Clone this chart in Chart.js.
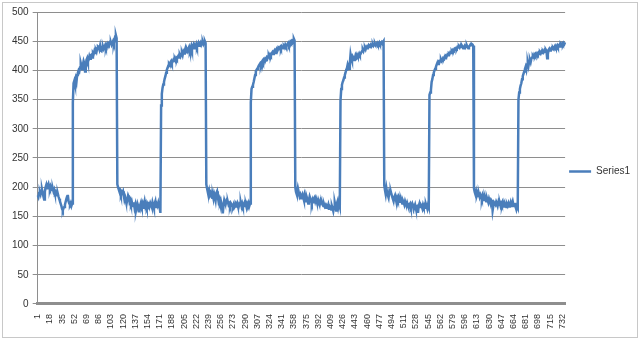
<!DOCTYPE html>
<html>
<head>
<meta charset="utf-8">
<script src="https://cdn.jsdelivr.net/npm/chart.js@4/dist/chart.umd.min.js"></script>
<style>
    html, body { margin: 0; padding: 0; background: #fff; }
    #wrap { width: 640px; height: 340px; position: relative; }
</style>
</head>
<body>
<div id="wrap"><canvas id="grafico"></canvas></div>
<script>
// values, one array per low/high phase
const low1 = [186, 183, 190, 192, 188, 194, 196, 190, 184, 179, 192, 200, 204, 198, 203, 206, 200, 197, 202, 199,
    195, 198, 193, 196, 190, 192, 188, 186, 189, 184, 180, 176, 172, 168, 163, 160, 164, 166, 170, 175,
    180, 184, 187, 176, 172, 170, 173, 168, 172];
const high1 = [345, 378, 382, 376, 385, 380, 392, 396, 400, 398, 405, 413, 408, 402, 410, 416, 412, 398, 405, 418,
    421, 415, 418, 424, 420, 426, 427, 422, 430, 428, 433, 430, 435, 432, 438, 441, 440, 436, 442, 434,
    433, 438, 441, 437, 440, 443, 439, 444, 442, 446, 444, 447, 445, 448, 444, 447, 450, 446, 452, 458,
    460, 455];
const low2 = [205, 200, 196, 192, 194, 188, 192, 190, 193, 186, 178, 182, 176, 173, 180, 186, 183, 175, 178, 172,
    176, 170, 168, 174, 165, 170, 160, 166, 172, 168, 157, 166, 170, 174, 168, 172, 165, 170, 176, 168,
    172, 166, 170, 164, 175, 168, 173, 170, 166, 174, 169, 164, 172, 176, 166, 171, 168, 173, 166, 165,
    156];
const high2 = [340, 360, 370, 376, 380, 386, 390, 396, 401, 404, 408, 411, 409, 414, 416, 412, 415, 418, 416, 420,
    417, 421, 419, 423, 425, 422, 427, 424, 428, 430, 426, 432, 429, 434, 438, 431, 436, 433, 437, 440,
    434, 438, 442, 436, 441, 444, 438, 443, 441, 445, 440, 444, 447, 442, 446, 448, 444, 447, 449, 445,
    448, 450, 447];
const low3 = [205, 198, 192, 188, 194, 187, 190, 184, 182, 186, 180, 189, 185, 178, 190, 193, 184, 176, 180, 174,
    178, 172, 168, 155, 170, 178, 174, 171, 176, 173, 175, 170, 172, 168, 173, 171, 168, 166, 170, 165,
    167, 172, 170, 173, 168, 166, 171, 169, 174, 168, 172, 167, 170, 173, 168, 171, 166, 172, 169, 173,
    168, 172];
const high3 = [345, 368, 372, 375, 380, 386, 392, 398, 401, 403, 405, 408, 410, 412, 409, 414, 416, 413, 418, 416,
    420, 419, 422, 420, 424, 426, 423, 427, 425, 429, 431, 428, 432, 434, 430, 435, 437, 433, 436, 439,
    438, 440, 437, 441, 439, 438, 442, 440, 444, 441, 443, 445, 447, 443, 446, 449, 447, 450, 448, 452,
    454, 451];
const low4 = [200, 192, 188, 195, 186, 190, 184, 187, 181, 185, 188, 183, 178, 186, 180, 176, 183, 179, 172, 178,
    184, 180, 176, 172, 178, 174, 181, 183, 176, 180, 175, 172, 178, 174, 170, 176, 172, 174, 170, 168,
    171, 167, 169, 165, 168, 166, 170, 163, 167, 165, 162, 168, 164, 159, 166, 174, 168, 160, 172, 176,
    166, 172, 167];
const high4 = [348, 368, 375, 380, 383, 388, 392, 396, 401, 404, 410, 406, 403, 412, 427, 420, 416, 424, 422, 418,
    421, 426, 423, 427, 424, 426, 429, 426, 428, 431, 433, 436, 433, 437, 439, 436, 440, 438, 441, 443,
    440, 442, 444, 441, 443, 445, 442, 444, 446, 443, 445, 447, 444, 446, 448, 445, 447, 446, 449, 448,
    450];
const low5 = [203, 195, 188, 198, 190, 186, 182, 192, 189, 193, 188, 184, 180, 176, 183, 186, 180, 176, 182, 178,
    183, 179, 175, 180, 176, 172, 177, 174, 170, 176, 172, 168, 173, 169, 166, 170, 172, 166, 169, 172,
    168, 162, 166, 170, 164, 159, 163, 156, 168, 172, 166, 170, 168, 164, 170, 166, 169, 165, 171, 167,
    163, 170, 166];
const high5 = [358, 362, 366, 380, 385, 392, 396, 400, 403, 406, 410, 413, 411, 415, 414, 417, 419, 416, 418, 421,
    420, 423, 421, 425, 424, 427, 426, 429, 428, 431, 430, 433, 431, 435, 434, 437, 436, 438, 437, 440,
    439, 441, 439, 442, 440, 443, 441, 438, 440, 442, 439, 441, 443, 440, 438, 441, 442, 444, 443, 445,
    444, 442];
const low6 = [198, 192, 188, 193, 186, 190, 185, 188, 183, 187, 184, 180, 186, 182, 178, 184, 180, 176, 182, 178,
    174, 180, 176, 172, 178, 176, 160, 168, 174, 172, 170, 175, 172, 168, 174, 170, 173, 168, 172, 169,
    174, 170, 167, 172, 169, 166, 171, 168, 172, 167, 170, 174, 168, 172, 176, 170, 168, 173, 166, 162,
    168, 165];
const high6 = [350, 362, 368, 374, 378, 385, 390, 394, 398, 402, 406, 401, 410, 414, 408, 416, 418, 414, 420, 422,
    425, 423, 427, 425, 428, 426, 429, 427, 430, 428, 431, 429, 432, 430, 433, 431, 434, 432, 436, 434,
    421, 428, 435, 437, 434, 436, 438, 436, 439, 437, 440, 442, 439, 441, 443, 440, 442, 444, 441, 445,
    443, 446, 444, 447, 445, 448];

const series1 = [].concat(low1, high1, low2, high2, low3, high3, low4, high4, low5, high5, low6, high6);
const categorias = series1.map((v, i) => String(i + 1));
const passoRotulo = 17;

const fundoBorda = {
    id: 'fundoBorda',
    beforeDraw(chart) {
        const ctx = chart.ctx;
        ctx.save();
        ctx.fillStyle = '#fff';
        ctx.fillRect(0, 0, chart.width, chart.height);
        ctx.strokeStyle = '#c8c8c8';
        ctx.lineWidth = 1;
        ctx.strokeRect(2.5, 2.5, chart.width - 5, chart.height - 5);
        ctx.restore();
    }
};

new Chart(document.getElementById('grafico'), {
    type: 'line',
    data: {
        labels: categorias,
        datasets: [{
            label: 'Series1',
            data: series1,
            borderColor: '#4a7ebb',
            backgroundColor: '#4a7ebb',
            borderWidth: 2.5,
            pointRadius: 0,
            tension: 0,
        }],
    },
    options: {
        responsive: true,
        maintainAspectRatio: false,
        animation: false,
        layout: { padding: { left: 8, right: 0, top: 12, bottom: 9 } },
        plugins: {
            tooltip: { enabled: false },
            legend: {
                position: 'right',
                labels: {
                    usePointStyle: true,
                    pointStyle: 'line',
                    pointStyleWidth: 22,
                    color: '#333',
                    padding: 4,
                    font: { family: 'Liberation Sans', size: 10 },
                },
            },
        },
        scales: {
            x: {
                grid: { display: false },
                border: { display: true, color: '#8e8e8e', width: 3 },
                ticks: {
                    autoSkip: false,
                    minRotation: 90,
                    maxRotation: 90,
                    padding: 2,
                    color: '#333',
                    font: { family: 'Liberation Sans', size: 9 },
                    callback: function (val, idx) {
                        return idx % passoRotulo === 0 ? this.getLabelForValue(val) : null;
                    },
                },
            },
            y: {
                min: 0,
                max: 500,
                grid: { color: '#8e8e8e', tickLength: 5 },
                border: { display: true, color: '#8e8e8e' },
                ticks: {
                    stepSize: 50,
                    padding: 4,
                    color: '#333',
                    font: { family: 'Liberation Sans', size: 10 },
                },
            },
        },
    },
    plugins: [fundoBorda],
});
</script>
</body>
</html>
